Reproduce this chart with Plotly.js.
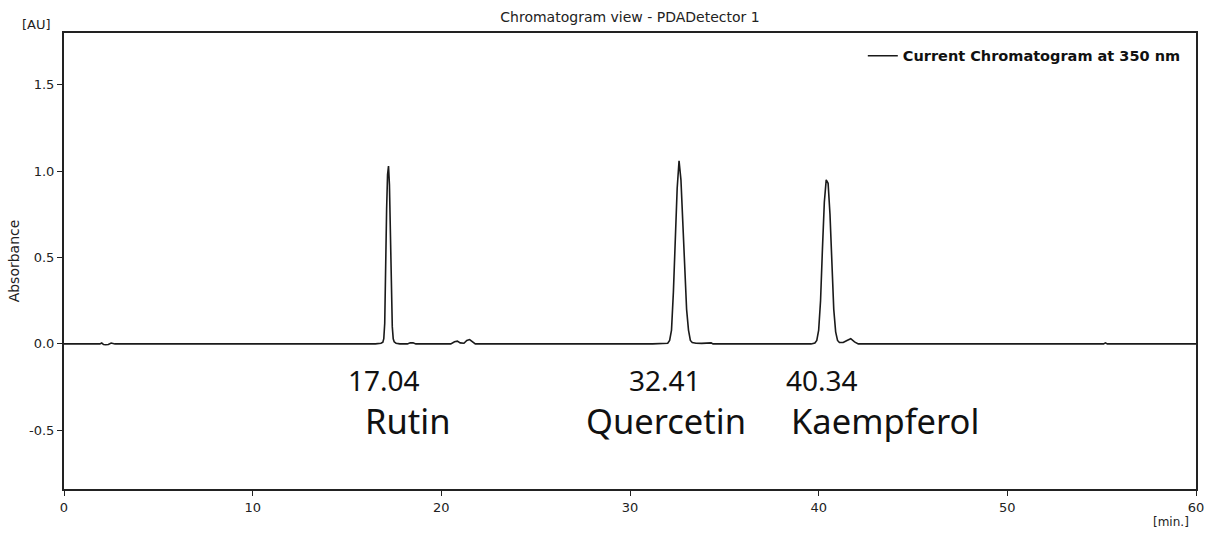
<!DOCTYPE html>
<html>
<head>
<meta charset="utf-8">
<script src="https://cdn.plot.ly/plotly-3.0.1.min.js"></script>
<style>html,body{margin:0;padding:0;background:#fff;}#chart{width:1206px;height:535px;}</style>
</head>
<body>
<div id="chart"></div>
<script>
// Retention time (min) and absorbance (AU)
const timeMin = [0, 1.9, 2.0, 2.1, 2.2, 2.35, 2.5, 2.6, 2.7,
  16.5, 16.8, 16.9, 16.95, 17.0, 17.05, 17.1, 17.15, 17.2, 17.25, 17.3, 17.35, 17.4, 17.45, 17.5, 17.6, 17.8,
  18.2, 18.35, 18.5, 18.65, 20.5, 20.7, 20.85, 21.0, 21.2, 21.35, 21.5, 21.65, 21.8,
  31.2, 31.6, 32.0, 32.1, 32.2, 32.3, 32.4, 32.5, 32.6, 32.7, 32.8, 32.9, 33.0, 33.1, 33.2, 33.3, 33.5, 33.8, 34.2, 34.3, 34.4,
  39.6, 39.8, 39.9, 40.0, 40.1, 40.2, 40.3, 40.4, 40.5, 40.6, 40.7, 40.8, 40.9, 41.0, 41.1, 41.3, 41.5, 41.7, 41.9, 42.1,
  55.1, 55.2, 55.3, 60];
const absorbance = [0, 0, 0.005, -0.004, -0.005, -0.003, 0.005, 0.002, 0,
  0, 0.004, 0.01, 0.03, 0.12, 0.55, 0.78, 0.98, 1.03, 0.92, 0.62, 0.3, 0.1, 0.03, 0.012, 0.004, 0,
  0, 0.007, 0.006, 0, 0, 0.012, 0.016, 0.006, 0.004, 0.02, 0.025, 0.012, 0,
  0, 0.003, 0.004, 0.02, 0.08, 0.3, 0.6, 0.9, 1.06, 0.95, 0.7, 0.42, 0.2, 0.08, 0.02, 0.008, 0.004, 0.003, 0.002, 0.006, 0,
  0, 0.005, 0.02, 0.08, 0.25, 0.55, 0.82, 0.95, 0.93, 0.75, 0.45, 0.2, 0.07, 0.02, 0.008, 0.008, 0.02, 0.03, 0.012, 0,
  0, 0.006, 0, 0];

const peakTimeLabels = ["17.04", "32.41", "40.34"];
const peakNames = ["Rutin", "Quercetin", "Kaempferol"];
const peakTimeLabelX = [16.95, 31.85, 40.2];
const peakNameX = [18.2, 31.9, 43.5];

const xTicks = [0, 10, 20, 30, 40, 50, 60];
const yTicks = [-0.5, 0.0, 0.5, 1.0, 1.5];

const axisFont = {family: "DejaVu Sans", size: 13, color: "#222"};
const bigFont = "Noto Sans";

const annotations = [];
peakTimeLabels.forEach((t, i) => annotations.push({
  x: peakTimeLabelX[i], y: -0.21, xref: "x", yref: "y", text: t, showarrow: false,
  font: {family: bigFont, size: 28, color: "#111"}
}));
peakNames.forEach((n, i) => annotations.push({
  x: peakNameX[i], y: -0.445, xref: "x", yref: "y", text: n, showarrow: false,
  font: {family: bigFont, size: 34.5, color: "#111"}
}));
annotations.push({x: -0.024, y: 1.0, xref: "paper", yref: "paper", xanchor: "center", yanchor: "bottom",
  text: "[AU]", showarrow: false, font: axisFont, borderpad: 0});
annotations.push({x: 0.978, y: -0.073, xref: "paper", yref: "paper", xanchor: "center", yanchor: "middle",
  text: "[min.]", showarrow: false, font: {family: "DejaVu Sans", size: 12, color: "#222"}, borderpad: 0});

const trace = {
  x: timeMin, y: absorbance, type: "scatter", mode: "lines",
  name: "<b>Current Chromatogram at 350 nm</b>",
  line: {color: "#1a1a1a", width: 1.6},
  showlegend: true
};

const layout = {
  width: 1206, height: 535,
  margin: {l: 64, r: 10, t: 33, b: 46},
  paper_bgcolor: "#fff", plot_bgcolor: "#fff",
  title: {text: "Chromatogram view - PDADetector 1", font: {family: "DejaVu Sans", size: 14, color: "#222"},
    xref: "paper", x: 0.5, xanchor: "center", y: 0.968, yanchor: "middle"},
  showlegend: true,
  legend: {x: 0.991, y: 0.985, xanchor: "right", yanchor: "top", bgcolor: "rgba(0,0,0,0)",
    font: {family: "DejaVu Sans", size: 14.5, color: "#111"}, itemwidth: 30},
  xaxis: {range: [0, 60], tickvals: xTicks, ticktext: xTicks.map(String), ticks: "outside", ticklen: 5,
    tickcolor: "#222", showgrid: false, zeroline: false, showline: true, linecolor: "#222", linewidth: 2,
    mirror: true, tickfont: axisFont},
  yaxis: {range: [-0.84, 1.8], tickvals: yTicks, ticktext: yTicks.map(v => v.toFixed(1)), ticks: "outside",
    ticklen: 5, tickcolor: "#222", showgrid: false, zeroline: false, showline: true, linecolor: "#222",
    linewidth: 2, mirror: true, tickfont: axisFont,
    title: {text: "Absorbance", font: {family: "DejaVu Sans", size: 14, color: "#222"}, standoff: 6}},
  annotations: annotations
};

Plotly.newPlot("chart", [trace], layout, {displayModeBar: false, staticPlot: true});
</script>
</body>
</html>
